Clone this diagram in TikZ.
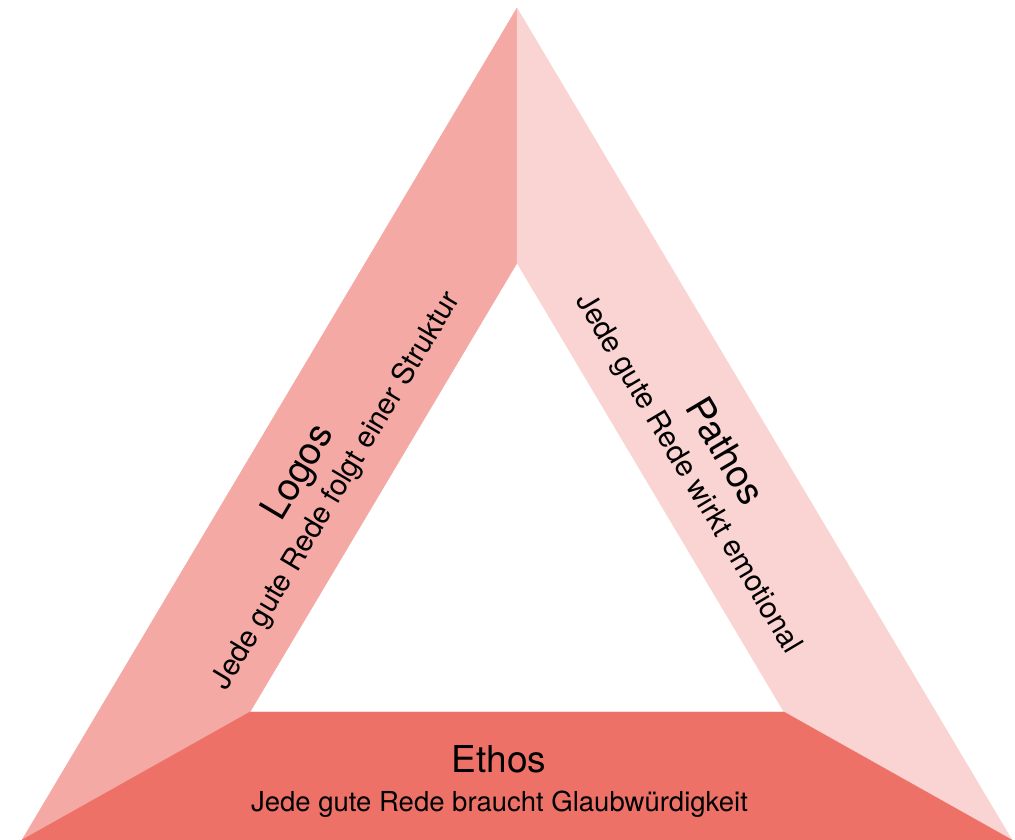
\documentclass[tikz,border=0pt]{standalone}
\usepackage{fontspec}
\setmainfont{TeX Gyre Heros}
\usetikzlibrary{calc}
\definecolor{logos}{RGB}{244,169,165}
\definecolor{pathos}{RGB}{249,212,210}
\definecolor{ethos}{RGB}{238,113,104}
\tikzset{%
  strip/.style={line width=0.4pt, line join=miter},% one side of the triangle
  heading/.style={anchor=base, inner sep=0pt, font=\fontsize{38}{38}\selectfont},% name of the appeal
  motto/.style={anchor=base, inner sep=0pt, font=\fontsize{29.5}{30}\selectfont},% line under the name
  heading base/.style={heading, font=\fontsize{37}{37}\selectfont},% bottom name
  motto base/.style={motto, font=\fontsize{27.5}{28}\selectfont}% bottom line
}

\begin{document}
\begin{tikzpicture}[x=1pt,y=1pt]
  \useasboundingbox (0,0) rectangle (1015,840);
  \coordinate (top) at (517,832);
  \coordinate (itop) at (517,577);
  \coordinate (bl) at (22,0);
  \coordinate (ibl) at (250,128);
  \coordinate (br) at (1012,0);
  \coordinate (ibr) at (784,128);

  \filldraw[strip, fill=logos, draw=logos] (top) -- (itop) -- (ibl) -- (bl) -- cycle;
  \filldraw[strip, fill=pathos, draw=pathos] (top) -- (br) -- (ibr) -- (itop) -- cycle;
  \filldraw[strip, fill=ethos, draw=ethos] (bl) -- (ibl) -- (ibr) -- (br) -- cycle;

  \node[heading, rotate=59.25] (logos) at (308,362) {Logos};
  \node[motto, rotate=59.25] (logos motto) at (343.5,345) {Jede gute Rede folgt einer Struktur};

  \node[heading, rotate=-59.25] (pathos) at (714,382) {Pathos};
  \node[motto, rotate=-59.25] (pathos motto) at (681,362) {Jede gute Rede wirkt emotional};

  \node[heading base] (ethos) at (499,67) {Ethos};
  \node[motto base] (ethos motto) at (499.5,28) {Jede gute Rede braucht Glaubwürdigkeit};
\end{tikzpicture}
\end{document}
